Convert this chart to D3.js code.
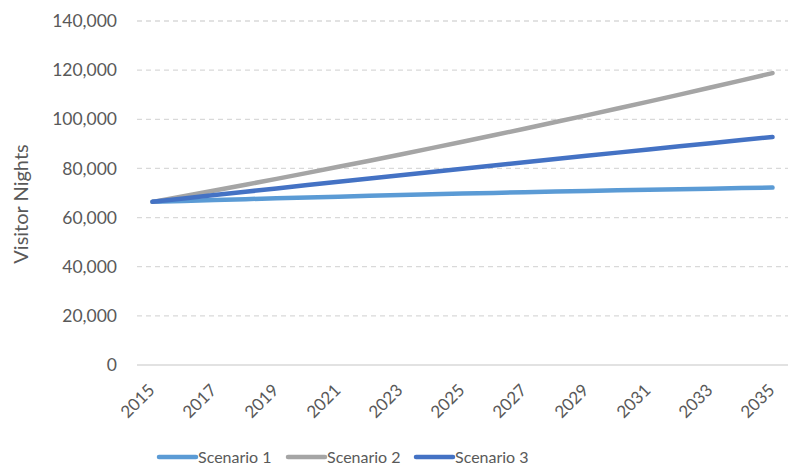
<!DOCTYPE html>
<html>
<head>
<meta charset="utf-8">
<script src="https://cdn.jsdelivr.net/npm/d3@7"></script>
<style>
  body { margin: 0; background: #fff; }
  text { font-family: Lato, "Open Sans", sans-serif; fill: #595959; }
</style>
</head>
<body>
<div id="chart"></div>
<script>
// data
var years = [2015, 2016, 2017, 2018, 2019, 2020, 2021, 2022, 2023, 2024, 2025,
  2026, 2027, 2028, 2029, 2030, 2031, 2032, 2033, 2034, 2035];
var scenario1 = [66400, 66780, 67140, 67500, 67850, 68190, 68520, 68840, 69150, 69460, 69750,
  70040, 70310, 70580, 70840, 71090, 71330, 71560, 71780, 72000, 72200];
var scenario2 = [66400, 68690, 71010, 73370, 75760, 78190, 80650, 83150, 85680, 88250, 90850,
  93490, 96160, 98870, 101610, 104390, 107200, 110050, 112930, 115850, 118800];
var scenario3 = [66400, 67780, 69150, 70510, 71870, 73230, 74570, 75910, 77250, 78580, 79900,
  81220, 82530, 83830, 85130, 86430, 87710, 88990, 90270, 91540, 92800];
var yTicks = [0, 20000, 40000, 60000, 80000, 100000, 120000, 140000];
var xTickYears = [2015, 2017, 2019, 2021, 2023, 2025, 2027, 2029, 2031, 2033, 2035];

var series = [
  {name: "Scenario 1", values: scenario1, color: "#5B9BD5"},
  {name: "Scenario 2", values: scenario2, color: "#A5A5A5"},
  {name: "Scenario 3", values: scenario3, color: "#4472C4"}
];

var chart_width = 789, chart_height = 466;
var plot_left = 137, plot_right = 788, plot_top = 21, plot_bottom = 365;

var svg = d3.select("#chart").append("svg")
  .attr("width", chart_width)
  .attr("height", chart_height);

var x = d3.scalePoint().domain(years).range([plot_left, plot_right]).padding(0.5);
var y = d3.scaleLinear().domain([0, 140000]).range([plot_bottom, plot_top]);

//gridlines
svg.append("g").selectAll("line")
  .data(yTicks)
  .enter()
  .append("line")
  .attr("x1", plot_left).attr("x2", plot_right)
  .attr("y1", function(d) { return y(d); })
  .attr("y2", function(d) { return y(d); })
  .attr("stroke", "#D9D9D9")
  .attr("stroke-width", 1.3)
  .attr("stroke-dasharray", function(d) { return d === 0 ? null : "5,4"; });

//y labels
svg.append("g").selectAll("text")
  .data(yTicks)
  .enter()
  .append("text")
  .attr("x", 117)
  .attr("y", function(d) { return y(d); })
  .attr("dy", "0.35em")
  .attr("text-anchor", "end")
  .style("font-size", "17.5px")
  .text(function(d) { return d3.format(",")(d); });

svg.append("text")
  .attr("transform", "translate(28,204) rotate(-90)")
  .attr("text-anchor", "middle")
  .style("font-size", "20px")
  .text("Visitor Nights");

//x labels
svg.append("g").selectAll("text")
  .data(xTickYears)
  .enter()
  .append("text")
  .attr("transform", function(d) { return "translate(" + (x(d) - 1) + ",387) rotate(-45)"; })
  .attr("text-anchor", "end")
  .attr("dy", "0.35em")
  .style("font-size", "17px")
  .text(function(d) { return d; });

//lines
var line = d3.line()
  .x(function(d, i) { return x(years[i]); })
  .y(function(d) { return y(d); });

svg.append("g").selectAll("path")
  .data(series)
  .enter()
  .append("path")
  .attr("d", function(s) { return line(s.values); })
  .attr("fill", "none")
  .attr("stroke", function(s) { return s.color; })
  .attr("stroke-width", 4.5)
  .attr("stroke-linecap", "round")
  .attr("stroke-linejoin", "round");

//legend
var legendX = [159, 288, 416];
var legend = svg.append("g").selectAll("g")
  .data(series)
  .enter()
  .append("g")
  .attr("transform", function(s, i) { return "translate(" + legendX[i] + ",457)"; });

legend.append("line")
  .attr("x1", 0).attr("x2", 37)
  .attr("stroke", function(s) { return s.color; })
  .attr("stroke-width", 4.5)
  .attr("stroke-linecap", "round");

legend.append("text")
  .attr("x", 39)
  .attr("dy", "0.35em")
  .style("font-size", "16px")
  .text(function(s) { return s.name; });
</script>
</body>
</html>
